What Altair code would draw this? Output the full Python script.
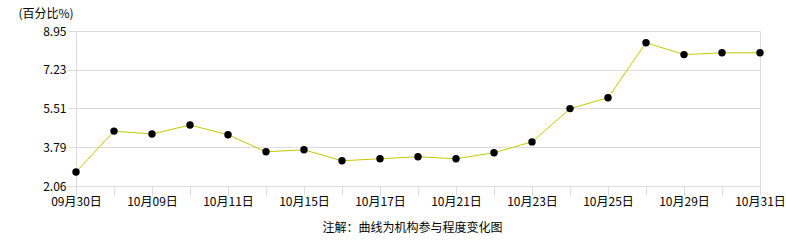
import altair as alt
import pandas as pd

dates = ["09月30日", "10月08日", "10月09日", "10月10日", "10月11日", "10月14日",
         "10月15日", "10月16日", "10月17日", "10月18日", "10月21日", "10月22日",
         "10月23日", "10月24日", "10月25日", "10月28日", "10月29日", "10月30日",
         "10月31日"]
values = [2.68, 4.50, 4.37, 4.77, 4.34, 3.58, 3.67, 3.18, 3.27, 3.36, 3.27, 3.54,
          4.02, 5.50, 5.98, 8.43, 7.90, 7.98, 7.98]
y_ticks = [2.06, 3.79, 5.51, 7.23, 8.95]
shown_labels = dates[::2]

df = pd.DataFrame({"date": dates, "value": values})

FONT = "Noto Sans CJK SC"
label_expr = "indexof(" + str(shown_labels).replace("'", '"') + ", datum.label) >= 0 ? datum.label : ''"

x = alt.X("date:O", sort=dates,
          scale=alt.Scale(type="point", padding=0),
          axis=alt.Axis(title="注解：曲线为机构参与程度变化图", labelAngle=0,
                        labelExpr=label_expr, tickSize=9, labelPadding=1,
                        domainColor="#dcdcdc", tickColor="#dcdcdc",
                        labelFont=FONT, labelFontSize=12, labelColor="#000",
                        titleFont=FONT, titleFontSize=12, titleFontWeight="normal",
                        titleColor="#000", titleX=336, titleY=45,
                        titleBaseline="alphabetic", labelOverlap=False,
                        grid=False))
y = alt.Y("value:Q",
          scale=alt.Scale(domain=[2.06, 8.95], nice=False, zero=False),
          axis=alt.Axis(values=y_ticks, format=".2f", title="(百分比%)",
                        titleAngle=0, titleAlign="left", titleX=-58, titleY=-14,
                        titleBaseline="alphabetic", titleFont=FONT,
                        titleFontSize=12, titleFontWeight="normal", titleColor="#000",
                        labelFont=FONT, labelFontSize=12, labelColor="#000",
                        tickSize=8, labelPadding=2, tickColor="#dcdcdc",
                        domainColor="#dcdcdc", gridColor="#dcdcdc"))

base = alt.Chart(df).encode(x=x, y=y)
line = base.mark_line(color="#c8c800", strokeWidth=1)
pts = base.mark_circle(color="#000", size=55, opacity=1)

chart = (line + pts).properties(
    width=684, height=155,
    padding={"left": 76, "top": 31, "right": 26, "bottom": 54},
    autosize=alt.AutoSizeParams(type="none"),
).configure_view(stroke="#dcdcdc").configure(background="white")

chart.save("out.html", embed_options={"renderer": "svg", "actions": False})
